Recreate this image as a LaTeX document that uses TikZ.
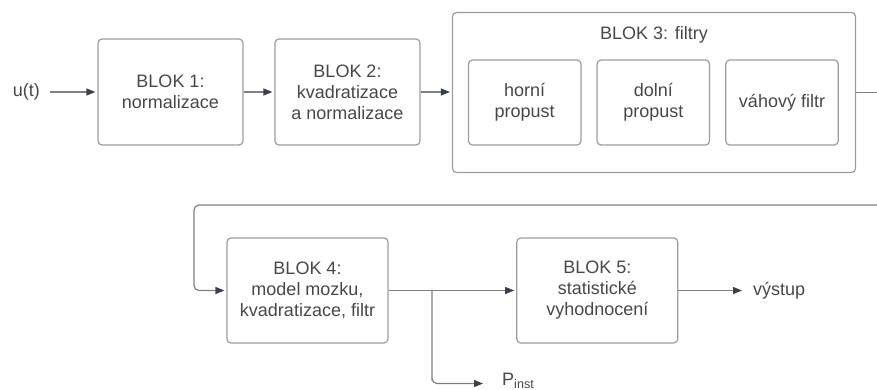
\documentclass[tikz,border=0pt]{standalone}
\usepackage{fontspec}
\setmainfont{Liberation Sans}
\usetikzlibrary{arrows.meta}

\definecolor{rambox}{HTML}{9C9C9C}
\definecolor{cara}{HTML}{808080}
\definecolor{hrot}{HTML}{3A3F4A}
\definecolor{pismo}{HTML}{474747}

\tikzset{
  blok/.style={draw=rambox, line width=1.2pt, rounded corners=4pt, align=center,
    text=pismo, font=\fontsize{18}{21}\selectfont, inner sep=0pt},
  popis/.style={text=pismo, font=\fontsize{18}{21}\selectfont, inner sep=0pt},
  spoj/.style={draw=cara, line width=1.2pt},
  sipka/.style={spoj, -{Triangle[length=9pt,width=7pt,color=hrot]}, shorten >=2pt},
}

\begin{document}
\begin{tikzpicture}[x=1pt,y=-1pt]
    \useasboundingbox (0,0) rectangle (877,390);

    % horni rada
    \node[popis, anchor=east] (vstup) at (40,92) {u(t)};
    \node[blok, minimum width=145pt, minimum height=106pt] (blok1) at (170.5,92) {BLOK 1:\\normalizace};
    \node[blok, minimum width=145pt, minimum height=106pt] (blok2) at (347.5,92) {BLOK 2:\\kvadratizace\\a normalizace};
    \node[blok, minimum width=403pt, minimum height=160pt] (blok3) at (654,92.5) {};
    \node[popis] (nazev3) at (654,35) {BLOK 3: filtry};
    \foreach \x/\jm/\txt in {524.7/filtr1/{horní\\propust}, 653.3/filtr2/{dolní\\propust}, 782/filtr3/{váhový filtr}}
             {
               \node[blok, minimum width=112.5pt, minimum height=85pt] (\jm) at (\x,102.5) {\txt};
             }
    \coordinate (okraj1) at (877,92.5);

    \draw[sipka, shorten <=10pt] (vstup.east) -- (blok1.west);
    \draw[sipka] (blok1) -- (blok2);
    \draw[sipka] (blok2.east) -- (blok2.east -| blok3.west);
    \draw[spoj] (blok3.east) -- (okraj1);

    % dolni rada
    \node[blok, minimum width=161pt, minimum height=105pt] (blok4) at (307.5,290.5) {BLOK 4:\\model mozku,\\kvadratizace, filtr};
    \node[blok, minimum width=161pt, minimum height=105pt] (blok5) at (597.3,290.5) {BLOK 5:\\statistické\\vyhodnocení};
    \node[popis, anchor=west] (vystup) at (753,290.5) {výstup};
    \node[popis, anchor=base west] (pinst) at (502,385.5) {P\textsubscript{inst}};
    \coordinate (okraj2) at (877,205);
    \coordinate (ohyb) at (194,205);
    \coordinate (odbocka) at (432,290.5);

    \draw[sipka, rounded corners=5pt] (okraj2) -- (ohyb) |- (blok4.west);
    \draw[sipka] (blok4) -- (blok5);
    \draw[sipka, shorten >=11pt] (blok5.east) -- (vystup.west);
    \draw[sipka, rounded corners=5pt, shorten >=19pt] (odbocka) |- (odbocka |- 0,383.5) -- (pinst.west |- 0,383.5);

\end{tikzpicture}
\end{document}
